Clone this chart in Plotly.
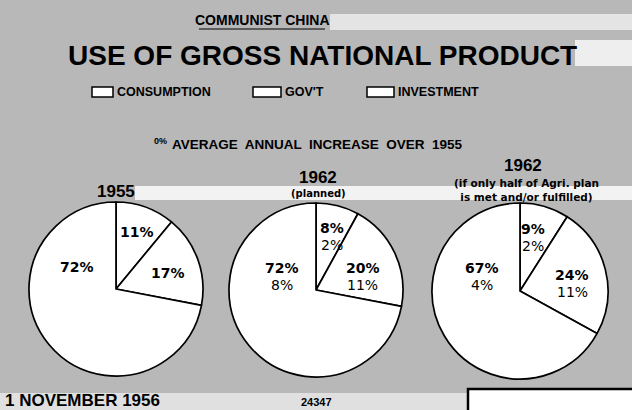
import plotly.graph_objects as go

W, H = 632, 410

# ---- data ----
segments = ["GOV'T", "INVESTMENT", "CONSUMPTION"]
share_1955 = [11, 17, 72]
share_1962_plan = [8, 20, 72]
share_1962_half = [9, 24, 67]
growth_1962_plan = [2, 11, 8]
growth_1962_half = [2, 11, 4]
pie_titles = ["1955", "1962", "1962"]
pie_subtitles = ["", "(planned)", "(if only half of Agri. plan<br>is met and/or fulfilled)"]
legend_labels = ["CONSUMPTION", "GOV'T", "INVESTMENT"]

BG = "#b8b8b8"
FONT_N = "Liberation Sans, Arial, sans-serif"
FONT = "DejaVu Sans, Liberation Sans, sans-serif"


def px(x, y):
    return x / W, 1 - y / H


# pie geometry (pixels): centre x, centre y, radius
pies = [
    (116, 289, 87, share_1955, None),
    (316, 290, 87, share_1962_plan, growth_1962_plan),
    (520, 291, 88, share_1962_half, growth_1962_half),
]

fig = go.Figure()
for cx, cy, r, vals, gr in pies:
    fig.add_trace(go.Pie(
        labels=segments, values=vals, sort=False, direction="clockwise",
        rotation=0, textinfo="none", hoverinfo="skip", showlegend=False,
        marker=dict(colors=["white"] * 3, line=dict(color="black", width=1.7)),
        domain=dict(x=[(cx - r) / W, (cx + r) / W],
                    y=[(H - cy - r) / H, (H - cy + r) / H]),
    ))

ann = []


def text(x, y, s, size, bold=True, family=FONT, anchor="center"):
    ax, ay = px(x, y)
    ann.append(dict(x=ax, y=ay, xref="paper", yref="paper", text=(f"<b>{s}</b>" if bold else s),
                    showarrow=False, xanchor=anchor, yanchor="middle",
                    font=dict(size=size, color="black", family=family)))


# titles
text(262, 20, "COMMUNIST CHINA", 14, family=FONT_N)
text(323, 55, "USE OF GROSS NATIONAL PRODUCT", 28, family=FONT_N)
text(169, 141, "0%", 9, family=FONT_N, anchor="right")
text(170, 144, "AVERAGE  ANNUAL  INCREASE  OVER  1955", 13.5, family=FONT_N, anchor="left")

# legend
legend_pos = [(92, 113), (253, 281), (367, 394)]
shapes = []
for (x0, x1), lab in zip(legend_pos, legend_labels):
    a0, b0 = px(x0, 87)
    a1, b1 = px(x1, 97)
    shapes.append(dict(type="rect", xref="paper", yref="paper", x0=a0, x1=a1, y0=b1, y1=b0,
                       fillcolor="white", line=dict(color="black", width=1.5)))
    text(x1 + 2, 92, lab, 12.5, family=FONT_N, anchor="left")

# pie titles
text(116, 191, pie_titles[0], 17, family=FONT_N)
text(318, 178, pie_titles[1], 17, family=FONT_N)
text(318, 193, pie_subtitles[1], 10, family=FONT)
text(523, 165, pie_titles[2], 17, family=FONT_N)
ax, ay = px(526, 190)
ann.append(dict(x=ax, y=ay, xref="paper", yref="paper", text="<b>" + pie_subtitles[2] + "</b>",
                showarrow=False, xanchor="center", yanchor="middle",
                font=dict(size=10.5, color="black", family=FONT)))

# slice labels: (x, y) for govt, invest, consumption
label_pos = [
    [(137, 232), (168, 273), (77, 267)],
    [(332, 228), (363, 268), (282, 268)],
    [(533, 229), (572, 275), (482, 268)],
]
for (cx, cy, r, vals, gr), pos in zip(pies, label_pos):
    for i, (x, y) in enumerate(pos):
        text(x, y, f"{vals[i]}%", 14)
        if gr is not None:
            text(x, y + 17, f"{gr[i]}%", 14, bold=False)

# footer
text(3, 400, "1 NOVEMBER 1956", 17, family=FONT_N, anchor="left")
text(316, 402, "24347", 11, family=FONT_N)

# paper bands (white areas of the scan)
def band(x0, y0, x1, y1, color="white", lw=0, lc="black"):
    a0, b0 = px(x0, y0)
    a1, b1 = px(x1, y1)
    shapes.insert(0, dict(type="rect", xref="paper", yref="paper", x0=a0, x1=a1, y0=b1, y1=b0,
                          fillcolor=color, line=dict(color=lc, width=lw), layer="below"))

band(330, 14, 632, 30, "#e4e4e4")
band(575, 40, 632, 66, "#eeeeee")
band(135, 186, 632, 200, "#f2f2f2")
band(0, 393, 467, 410, "#e0e0e0")

# underline of COMMUNIST CHINA
u0, v0 = px(199, 29)
u1, _ = px(325, 29)
shapes.append(dict(type="line", xref="paper", yref="paper", x0=u0, x1=u1, y0=v0, y1=v0,
                   line=dict(color="black", width=1.2)))

# bottom right box
b0x, b0y = px(468, 389)
b1x, b1y = px(640, 420)
shapes.append(dict(type="rect", xref="paper", yref="paper", x0=b0x, x1=b1x, y0=b1y, y1=b0y,
                   fillcolor="white", line=dict(color="black", width=2.5)))

fig.update_layout(width=W, height=H, margin=dict(l=0, r=0, t=0, b=0),
                  paper_bgcolor=BG, plot_bgcolor=BG, annotations=ann, shapes=shapes)
fig.write_html("out.html", config={"displayModeBar": False},
               post_script="document.body.style.margin='0px';document.body.style.padding='0px';")
